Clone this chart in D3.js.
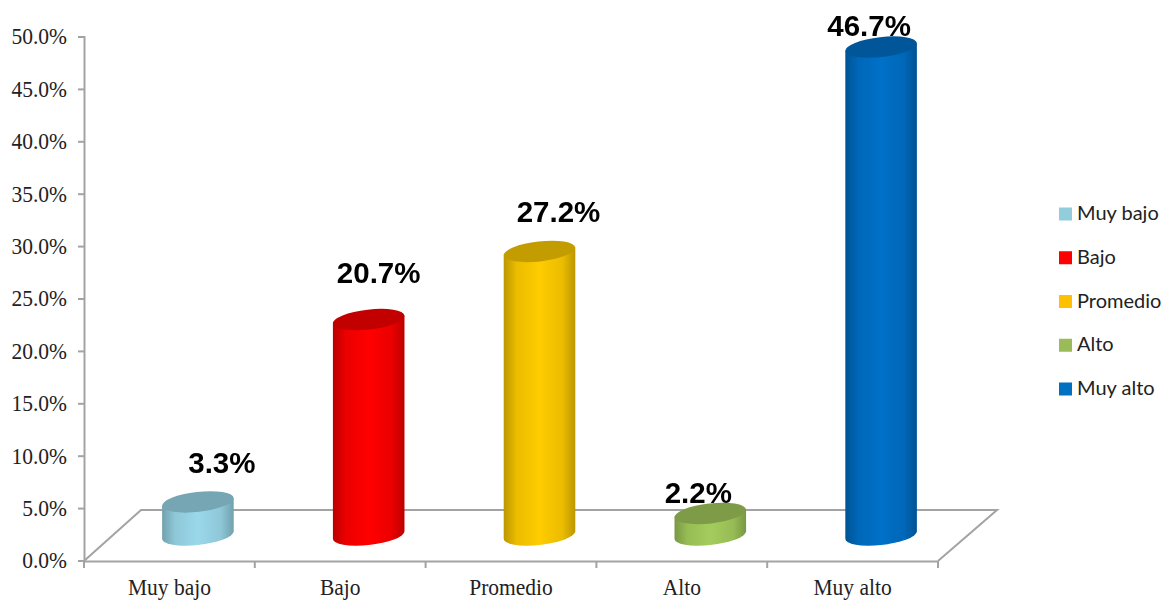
<!DOCTYPE html>
<html lang="es">
<head>
<meta charset="UTF-8">
<title>Niveles</title>
<script src="https://d3js.org/d3.v7.min.js"></script>
<style>
  html, body { margin: 0; padding: 0; background: #fff; overflow: hidden; }
  svg { display: block; }
  .axis path, .axis line { stroke: #a3a3a3; stroke-width: 2px; }
  .axis text { font-family: "Liberation Serif", serif; font-size: 21.5px; fill: #222; }
</style>
</head>
<body>
<svg width="1162" height="601"></svg>
<script>
// data
const categories = ["Muy bajo", "Bajo", "Promedio", "Alto", "Muy alto"];
const values = [3.3, 20.7, 27.2, 2.2, 46.7];
const colors = ["#9ad8ea", "#ff0000", "#ffcc00", "#a4cc5c", "#0070c8"];
const legendColors = ["#92cddc", "#ff0000", "#ffc000", "#9bbb59", "#0070c0"];
const yTicks = [0, 5, 10, 15, 20, 25, 30, 35, 40, 45, 50];

const svg = d3.select("svg");

const x = d3.scaleBand().domain(categories).range([84, 938]);
const y = d3.scaleLinear().domain([0, 50]).range([560.5, 36.5]);

// depth of the fake 3D floor
const depthX = 57, depthY = 51;
const barDx = 28.5, barDy = -24;
const rx = 36, ry = 10, tilt = -6.5;

const defs = svg.append("defs");
defs.append("filter").attr("id", "soft")
    .attr("x", "-5%").attr("y", "-5%").attr("width", "110%").attr("height", "110%")
    .append("feGaussianBlur").attr("stdDeviation", 0.45);

colors.forEach((c, i) => {
    const g = defs.append("linearGradient").attr("id", "bar" + i);
    const dark = d3.color(c).darker(0.85);
    g.append("stop").attr("offset", "0%").attr("stop-color", dark);
    g.append("stop").attr("offset", "18%").attr("stop-color", d3.interpolateRgb(dark, c)(0.7));
    g.append("stop").attr("offset", "50%").attr("stop-color", c);
    g.append("stop").attr("offset", "82%").attr("stop-color", d3.interpolateRgb(dark, c)(0.7));
    g.append("stop").attr("offset", "100%").attr("stop-color", dark);
});

// floor
const x0 = x.range()[0], x1 = x.range()[1], y0 = y(0) + 0.5;
svg.append("path")
    .attr("d", d3.line()([[x0, y0], [x0 + depthX, y0 - depthY], [x1 + depthX + 2, y0 - depthY], [x1, y0]]))
    .attr("fill", "none")
    .attr("stroke", "#a3a3a3")
    .attr("stroke-width", 2);

// axes
svg.append("g")
    .attr("class", "axis")
    .attr("transform", `translate(${x0},0)`)
    .call(d3.axisLeft(y).tickValues(yTicks).tickSize(6).tickSizeOuter(6).tickPadding(11)
        .tickFormat(d => d.toFixed(1) + "%"));

svg.append("g")
    .attr("class", "axis")
    .attr("transform", `translate(0,${y0})`)
    .call(d3.axisBottom(x).tickSize(0).tickPadding(18))
    .call(g => g.selectAll("line").remove());

// the original text is a bit taller than it is wide
svg.selectAll(".axis text").each(function () {
    const w = this.getComputedTextLength();
    d3.select(this)
        .style("font-size", "23px")
        .attr("textLength", w)
        .attr("lengthAdjust", "spacingAndGlyphs");
});

svg.selectAll("line.xtick")
    .data(d3.range(categories.length + 1))
    .enter().append("line")
    .attr("class", "xtick")
    .attr("x1", i => x0 + i * x.bandwidth())
    .attr("x2", i => x0 + i * x.bandwidth())
    .attr("y1", y0)
    .attr("y2", y0 + 7)
    .attr("stroke", "#a3a3a3")
    .attr("stroke-width", 2);

// cylinders
const phi = tilt * Math.PI / 180;
const t = Math.atan(-(ry / rx) * Math.tan(phi));
const tx = rx * Math.cos(t) * Math.cos(phi) - ry * Math.sin(t) * Math.sin(phi);
const ty = rx * Math.cos(t) * Math.sin(phi) + ry * Math.sin(t) * Math.cos(phi);

function cx(d) { return x(d) + x.bandwidth() / 2 + barDx; }

const bars = svg.append("g").attr("filter", "url(#soft)");

categories.forEach((cat, i) => {
    const c = cx(cat), top = y(values[i]) + barDy, base = y(0) + barDy - 1.5;
    bars.append("path")
        .attr("d", `M${c - tx},${top - ty} L${c - tx},${base - ty} A${rx},${ry} ${tilt} 0 0 ${c + tx},${base + ty} L${c + tx},${top + ty} Z`)
        .attr("fill", `url(#bar${i})`);
    bars.append("ellipse")
        .attr("rx", rx)
        .attr("ry", ry)
        .attr("transform", `translate(${c},${top}) rotate(${tilt})`)
        .attr("fill", d3.color(colors[i]).darker(0.75));
});

// value labels sit where they were dragged in the original
const labelDx = [24, 10, 19, -12, -12];
const labelDy = [-29, -37, -29, -10, -11];

svg.selectAll("text.val")
    .data(categories)
    .enter().append("text")
    .attr("class", "val")
    .attr("x", (d, i) => cx(d) + labelDx[i])
    .attr("y", (d, i) => y(values[i]) + barDy + labelDy[i])
    .attr("text-anchor", "middle")
    .attr("font-family", "Liberation Sans, sans-serif")
    .attr("font-weight", "bold")
    .attr("font-size", 29.5)
    .attr("fill", "#000")
    .text((d, i) => values[i].toFixed(1) + "%");

// legend
const legendY = d3.scalePoint().domain(categories).range([214, 389]);
const legend = svg.selectAll("g.leg")
    .data(categories)
    .enter().append("g")
    .attr("class", "leg")
    .attr("transform", d => `translate(1059,${legendY(d)})`);
legend.append("rect")
    .attr("y", -6.5)
    .attr("width", 13)
    .attr("height", 13)
    .attr("fill", (d, i) => legendColors[i]);
legend.append("text")
    .attr("x", 18)
    .attr("y", 6)
    .attr("font-family", "Lato, sans-serif")
    .attr("font-size", 20)
    .attr("fill", "#222")
    .text(d => d);
</script>
</body>
</html>
